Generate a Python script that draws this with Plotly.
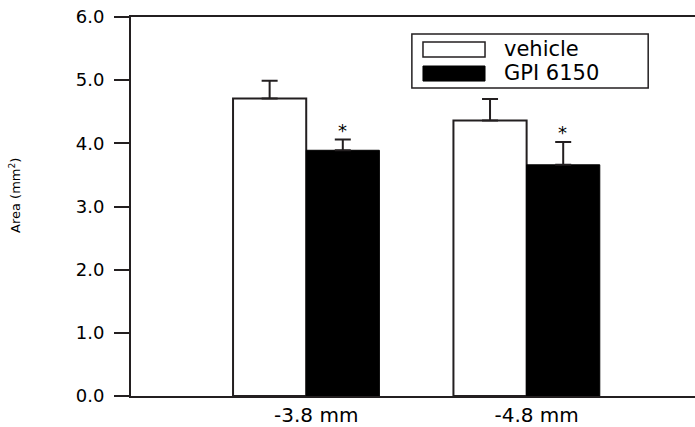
import plotly.graph_objects as go

# Lesion area by coronal level
levels = ["-3.8 mm", "-4.8 mm"]
vehicle = [4.71, 4.36]
vehicle_sem = [0.28, 0.34]
gpi6150 = [3.89, 3.66]
gpi6150_sem = [0.17, 0.36]
y_ticks = [0.0, 1.0, 2.0, 3.0, 4.0, 5.0, 6.0]

INK = "#231f20"
FONT = "DejaVu Sans, Liberation Sans, Arial, sans-serif"
xpos = list(range(len(levels)))

fig = go.Figure()
fig.add_trace(go.Bar(
    x=xpos, y=vehicle, name="vehicle",
    marker=dict(color="white", line=dict(color=INK, width=2)),
    error_y=dict(type="data", symmetric=False, array=vehicle_sem,
                 arrayminus=[0] * len(levels), color=INK, thickness=2, width=8),
    showlegend=False,
))
fig.add_trace(go.Bar(
    x=xpos, y=gpi6150, name="GPI 6150",
    marker=dict(color="black", line=dict(color="black", width=1)),
    error_y=dict(type="data", symmetric=False, array=gpi6150_sem,
                 arrayminus=[0] * len(levels), color=INK, thickness=2, width=8),
    showlegend=False,
))

# significance markers above the treated bars
for i, (v, e) in enumerate(zip(gpi6150, gpi6150_sem)):
    fig.add_annotation(x=i, y=v + e, xref="x", yref="y", text="*",
                       showarrow=False, yanchor="bottom", yshift=-3,
                       xshift=36, font=dict(family=FONT, size=18, color="black"))

# legend box drawn by hand
fig.add_shape(type="rect", xref="paper", yref="paper",
              x0=0.498, x1=0.917, y0=0.8127, y1=0.955,
              line=dict(color=INK, width=1.5), fillcolor="white")
fig.add_shape(type="rect", xref="paper", yref="paper",
              x0=0.5177, x1=0.6277, y0=0.8945, y1=0.934,
              line=dict(color=INK, width=1.5), fillcolor="white")
fig.add_shape(type="rect", xref="paper", yref="paper",
              x0=0.5177, x1=0.6277, y0=0.831, y1=0.8707,
              line=dict(color="black", width=1), fillcolor="black")
fig.add_annotation(x=0.6578, y=0.9156, xref="paper", yref="paper", text="vehicle",
                   showarrow=False, xanchor="left", yanchor="middle",
                   font=dict(family=FONT, size=21, color="black"))
fig.add_annotation(x=0.6578, y=0.852, xref="paper", yref="paper", text="GPI 6150",
                   showarrow=False, xanchor="left", yanchor="middle",
                   font=dict(family=FONT, size=21, color="black"))

# y-axis title
fig.add_annotation(x=-0.206, y=0.53, xref="paper", yref="paper",
                   text="Area (mm<sup>2</sup>)",
                   showarrow=False, textangle=-90, xanchor="center", yanchor="middle",
                   font=dict(family=FONT, size=13, color="black"))

fig.update_layout(
    width=695, height=427,
    margin=dict(l=131, r=0, t=17, b=31),
    paper_bgcolor="white", plot_bgcolor="white",
    barmode="group", bargap=0.336, bargroupgap=0,
    font=dict(family=FONT, color="black"),
)
fig.update_xaxes(
    range=[-0.795, 1.764], tickvals=xpos, ticktext=levels,
    showline=True, mirror=True, linecolor=INK, linewidth=2,
    ticks="", showgrid=False, zeroline=False,
    tickfont=dict(family=FONT, size=20, color="black"),
    ticklabelshift=10,
)
fig.update_yaxes(
    range=[0, 6], tickvals=y_ticks, ticktext=[f"{t:.1f}" for t in y_ticks],
    showline=True, linecolor=INK, linewidth=2,
    ticks="outside", ticklen=15, tickwidth=2, tickcolor=INK,
    showgrid=False, zeroline=False,
    tickfont=dict(family=FONT, size=18, color="black"),
    ticklabelstandoff=6,
)

fig.write_html("out.html")
